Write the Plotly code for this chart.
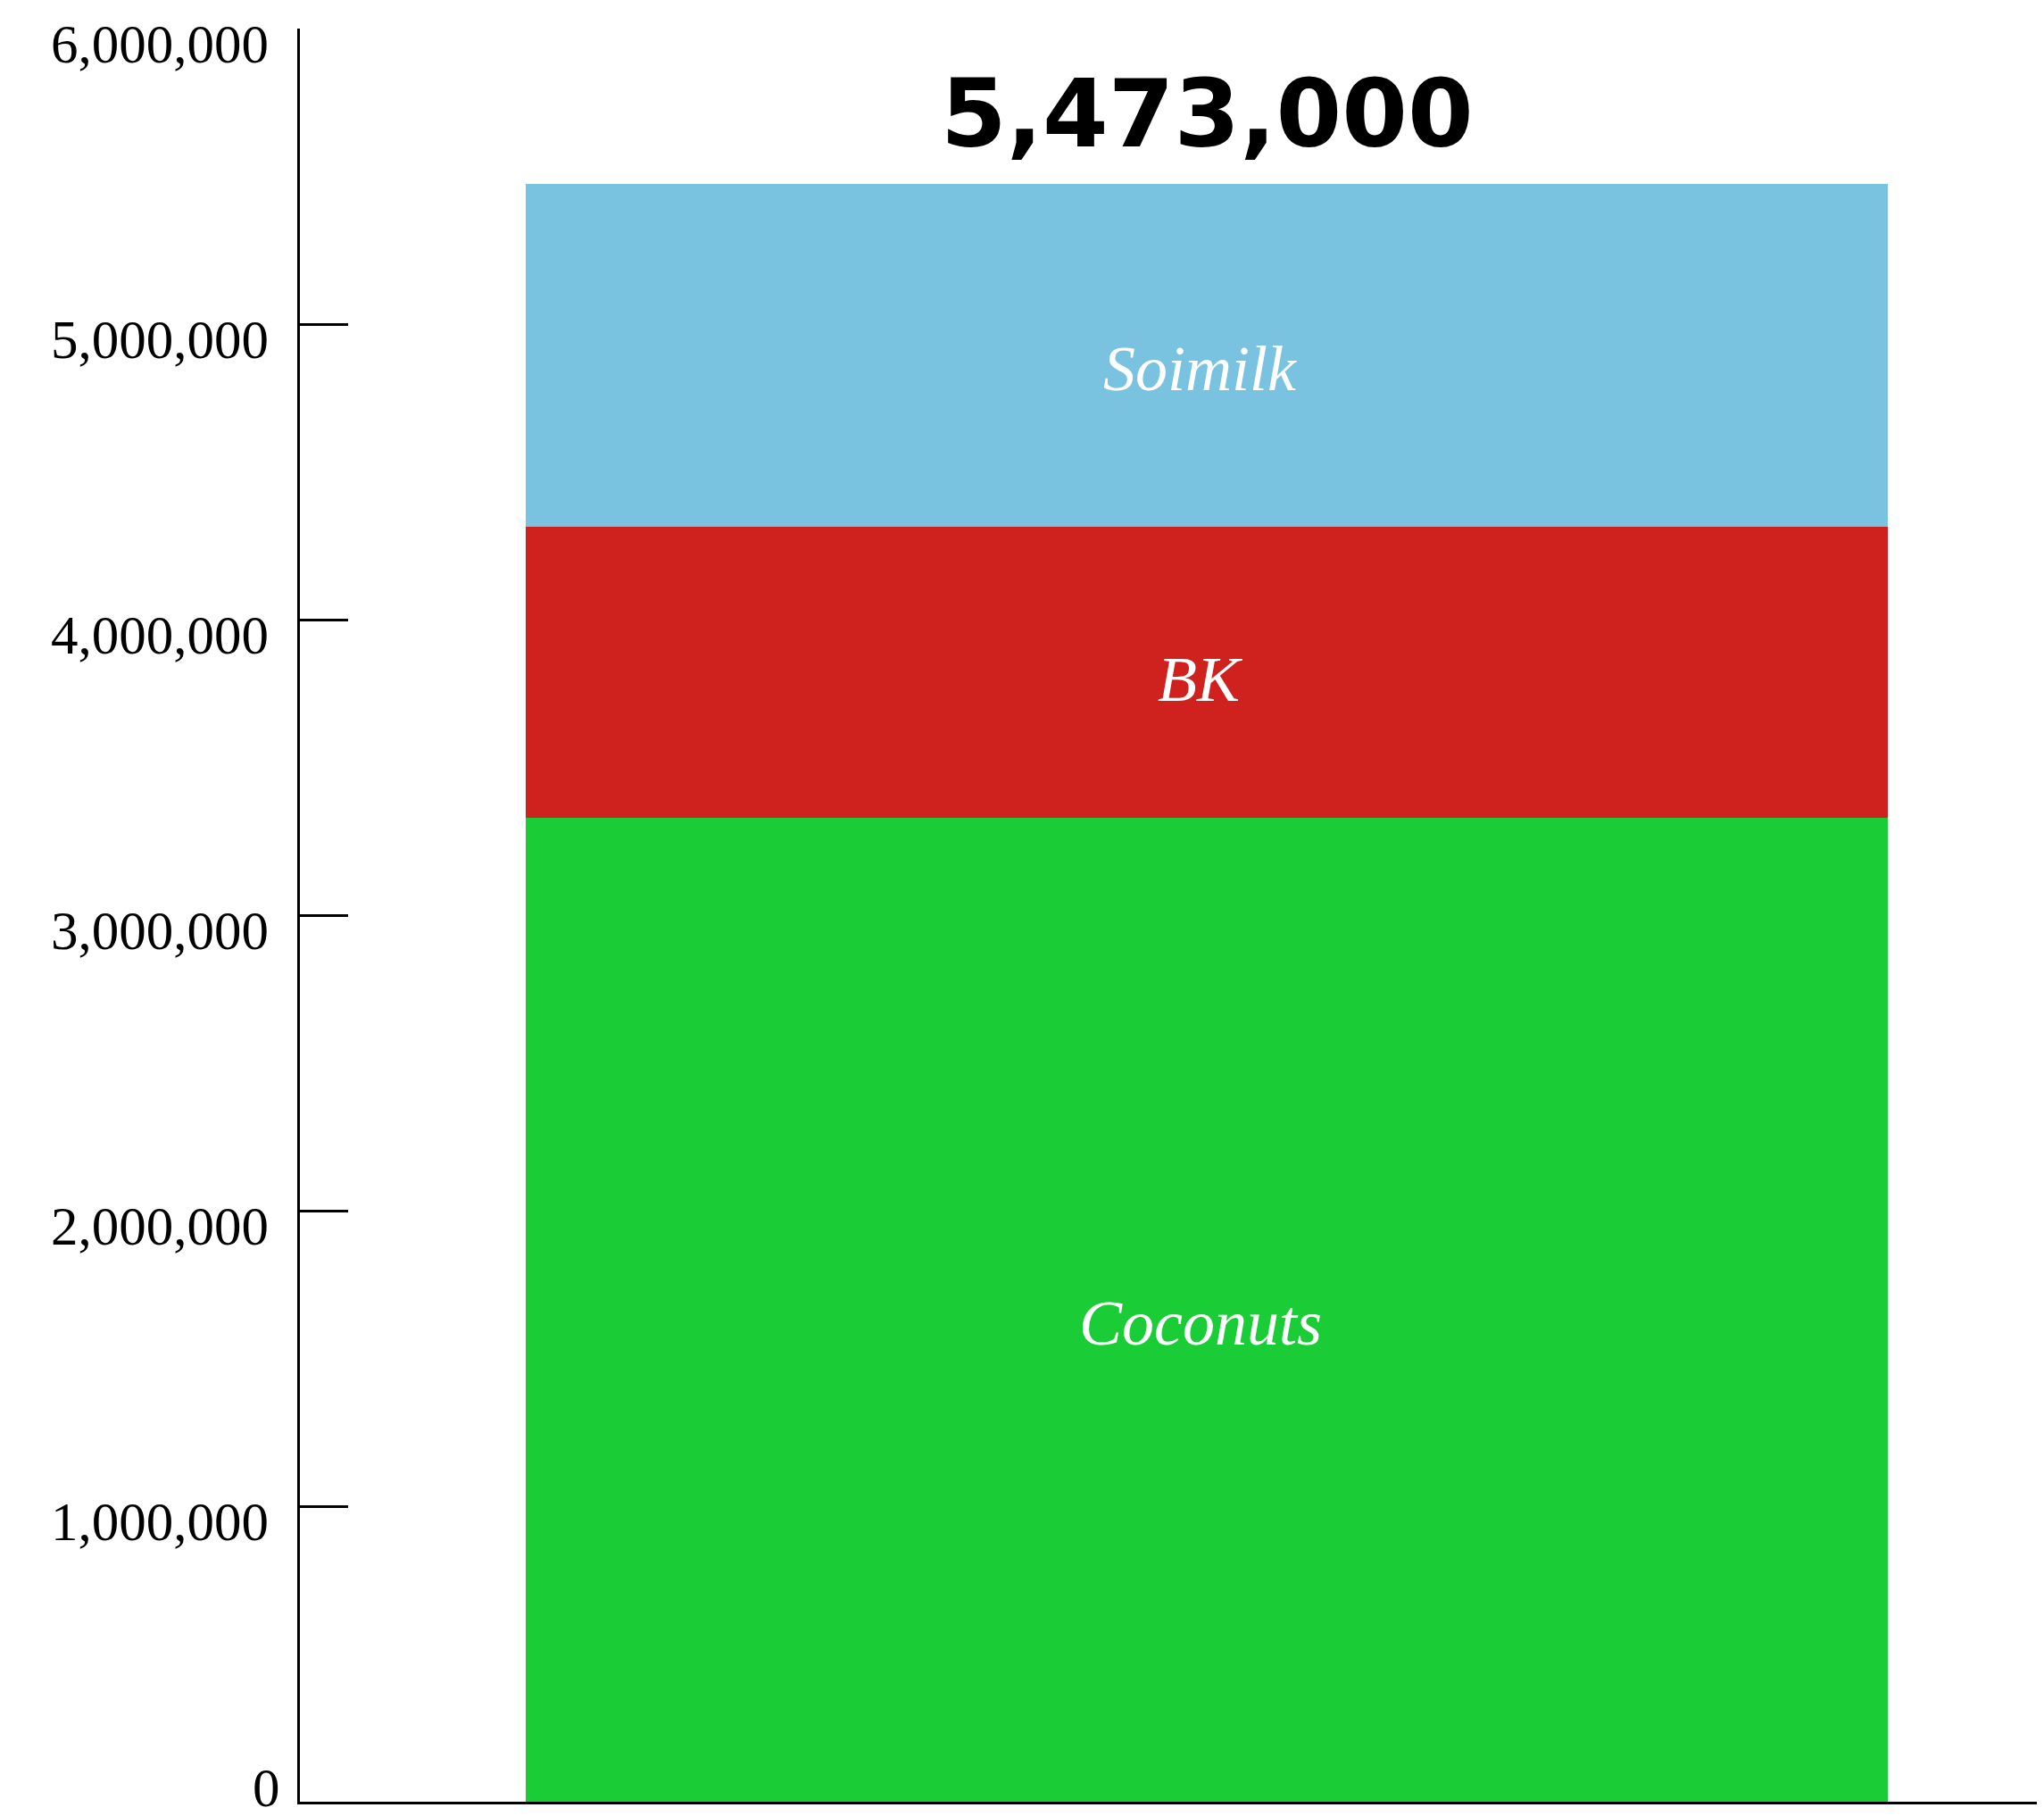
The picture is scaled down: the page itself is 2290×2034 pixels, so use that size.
import plotly.graph_objects as go

category = ["Total"]
series_names = ["Coconuts", "BK", "Soimilk"]
coconuts = [3330000]
bk = [984000]
soimilk = [1159000]
total_label = "5,473,000"
y_ticks = [0, 1000000, 2000000, 3000000, 4000000, 5000000, 6000000]

colors = {"Coconuts": "#1ACD36", "BK": "#CF221F", "Soimilk": "#79C3E0"}
series_values = {"Coconuts": coconuts, "BK": bk, "Soimilk": soimilk}

label_font = dict(family="Liberation Serif", size=72, color="white", style="italic")
tick_font = dict(family="Liberation Serif", size=61, color="black")

fig = go.Figure()
base = 0
for name in series_names:
    val = series_values[name][0]
    fig.add_trace(go.Bar(
        x=[0], y=series_values[name], name=name,
        width=0.8,
        marker=dict(color=colors[name], line=dict(width=0)),
        hoverinfo="name+y",
    ))
    fig.add_annotation(
        x=0, y=base + val / 2, text=name, showarrow=False,
        xanchor="center", yanchor="middle", xshift=-7,
        yshift=-15 if name != "BK" else -8,
        font=label_font,
    )
    base += val

total = base
fig.add_annotation(
    x=0, y=total, text=total_label, showarrow=False,
    xanchor="center", yanchor="bottom", yshift=15,
    font=dict(family="DejaVu Sans", size=106, color="black", weight="bold"),
)

# the "0" tick label sits below the axis end, where plotly hides shifted labels
fig.add_annotation(
    xref="paper", x=0, y=y_ticks[0], text=f"{y_ticks[0]:,}", showarrow=False,
    xanchor="right", yanchor="middle", xshift=-20, yshift=16,
    font=tick_font,
)

fig.update_layout(
    width=2290, height=2034,
    margin=dict(l=328, r=8, t=21, b=24),
    barmode="stack",
    showlegend=False,
    plot_bgcolor="white", paper_bgcolor="white",
    xaxis=dict(range=[-0.5327, 0.4918], showticklabels=False, ticks="",
               showgrid=False, zeroline=False, showline=True,
               linecolor="black", linewidth=3),
    yaxis=dict(range=[0, 6000000], tickvals=y_ticks, tickformat=",",
               showgrid=False, zeroline=False, showline=True,
               linecolor="black", linewidth=2.5,
               ticks="inside", ticklen=54, tickwidth=2.5, tickcolor="black",
               ticklabelstandoff=20, ticklabelshift=17,
               tickfont=tick_font),
)

fig.write_html("out.html")
